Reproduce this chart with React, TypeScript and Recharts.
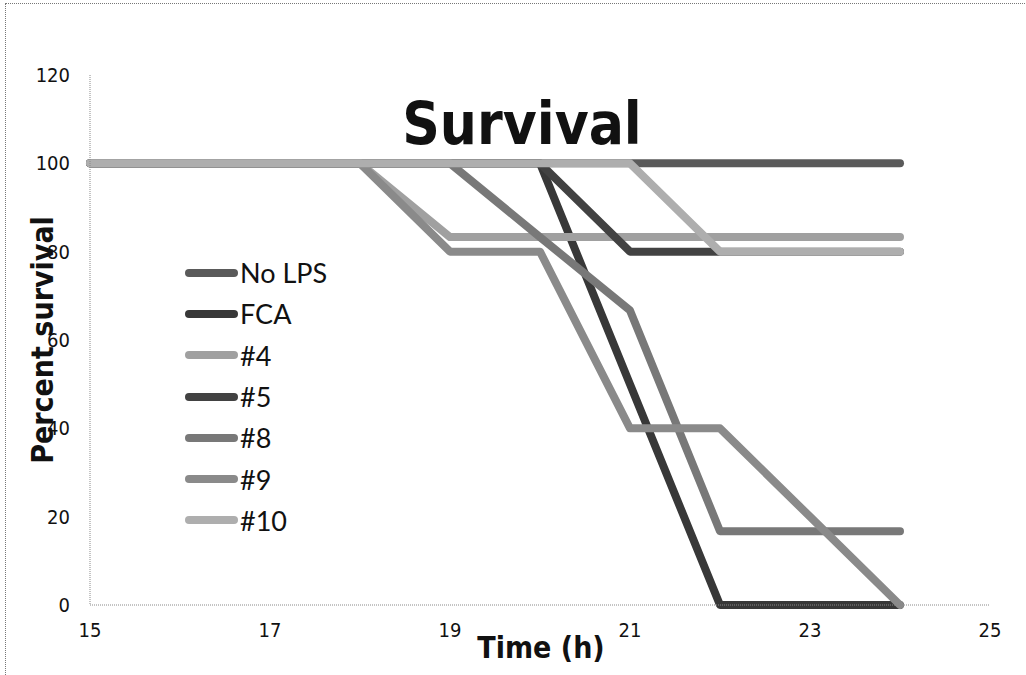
import React from "react";
import { LineChart, Line, XAxis, YAxis } from "recharts";

// survival over time, percent
const hours = [15, 16, 17, 18, 19, 20, 21, 22, 23, 24];
const noLps = [100, 100, 100, 100, 100, 100, 100, 100, 100, 100];
const fca = [100, 100, 100, 100, 100, 100, 50, 0, 0, 0];
const c4 = [100, 100, 100, 100, 83.3, 83.3, 83.3, 83.3, 83.3, 83.3];
const c5 = [100, 100, 100, 100, 100, 100, 80, 80, 80, 80];
const c8 = [100, 100, 100, 100, 100, 83.3, 66.7, 16.7, 16.7, 16.7];
const c9 = [100, 100, 100, 100, 80, 80, 40, 40, 20, 0];
const c10 = [100, 100, 100, 100, 100, 100, 100, 80, 80, 80];

const xTicks = [15, 17, 19, 21, 23, 25];
const yTicks = [0, 20, 40, 60, 80, 100, 120];

const series = [
  { key: "noLps", name: "No LPS", color: "#5a5a5a" },
  { key: "fca", name: "FCA", color: "#383838" },
  { key: "c4", name: "#4", color: "#a0a0a0" },
  { key: "c5", name: "#5", color: "#424242" },
  { key: "c8", name: "#8", color: "#787878" },
  { key: "c9", name: "#9", color: "#8a8a8a" },
  { key: "c10", name: "#10", color: "#aeaeae" },
];

const data = hours.map((h, i) => ({
  hour: h,
  noLps: noLps[i],
  fca: fca[i],
  c4: c4[i],
  c5: c5[i],
  c8: c8[i],
  c9: c9[i],
  c10: c10[i],
}));

const labelFont = "'DejaVu Sans Condensed', 'DejaVu Sans', sans-serif";
const tickFont = "'DejaVu Sans Condensed', sans-serif";

export default function App() {
  return (
    <div style={{ position: "absolute", left: 0, top: 0, width: 1026, height: 675, background: "#fff", overflow: "hidden" }}>
      <div style={{ position: "absolute", left: 5, top: 3, width: 1040, height: 700, border: "1px dotted #777" }} />
      <LineChart
        width={1026}
        height={675}
        data={data}
        margin={{ top: 75, right: 36, left: 30, bottom: 30 }}
      >
        <XAxis
          dataKey="hour"
          type="number"
          domain={[15, 25]}
          ticks={xTicks}
          tickLine={false}
          tickMargin={12}
          height={40}
          axisLine={{ stroke: "#888", strokeDasharray: "1 1" }}
          tick={{ fill: "#111", fontSize: 20, fontFamily: tickFont }}
        />
        <XAxis xAxisId="top" dataKey="hour" type="number" domain={[15, 25]} orientation="top" height={0} tick={false} tickLine={false} axisLine={{ stroke: "#666", strokeWidth: 3 }} />
        <YAxis
          domain={[0, 120]}
          ticks={yTicks}
          tickLine={false}
          tickMargin={14}
          width={60}
          axisLine={{ stroke: "#888", strokeDasharray: "1 1" }}
          tick={{ fill: "#111", fontSize: 20, fontFamily: tickFont }}
        />
        <YAxis yAxisId="right" orientation="right" domain={[0, 120]} width={0} tick={false} tickLine={false} axisLine={{ stroke: "#888" }} />
        {series.map((s) => (
          <Line
            key={s.key}
            type="linear"
            dataKey={s.key}
            name={s.name}
            stroke={s.color}
            strokeWidth={8}
            strokeLinecap="round"
            strokeLinejoin="round"
            dot={false}
            isAnimationActive={false}
          />
        ))}
      </LineChart>
      {/* legend sits inside the plot area */}
      <div style={{ position: "absolute", left: 185, top: 252, fontFamily: "Lato, sans-serif", fontSize: 27, color: "#111" }}>
        {series.map((s) => (
          <div key={s.key} style={{ display: "flex", alignItems: "center", height: 41.3 }}>
            <div style={{ width: 53, height: 8, background: s.color, borderRadius: 4, marginRight: 2 }} />
            <span>{s.name}</span>
          </div>
        ))}
      </div>
      <div style={{ position: "absolute", left: 0, width: 1044, top: 90, textAlign: "center", fontFamily: labelFont, fontWeight: 700, fontSize: 58, color: "#111" }}>
        Survival
      </div>
      <div style={{ position: "absolute", left: 441, width: 200, top: 630, textAlign: "center", fontFamily: labelFont, fontWeight: 700, fontSize: 30, color: "#111" }}>
        Time (h)
      </div>
      <div
        style={{
          position: "absolute",
          left: 42,
          top: 340,
          transform: "translate(-50%, -50%) rotate(-90deg)",
          whiteSpace: "nowrap",
          fontFamily: labelFont,
          fontWeight: 700,
          fontSize: 30,
          color: "#111",
        }}
      >
        Percent survival
      </div>
    </div>
  );
}
